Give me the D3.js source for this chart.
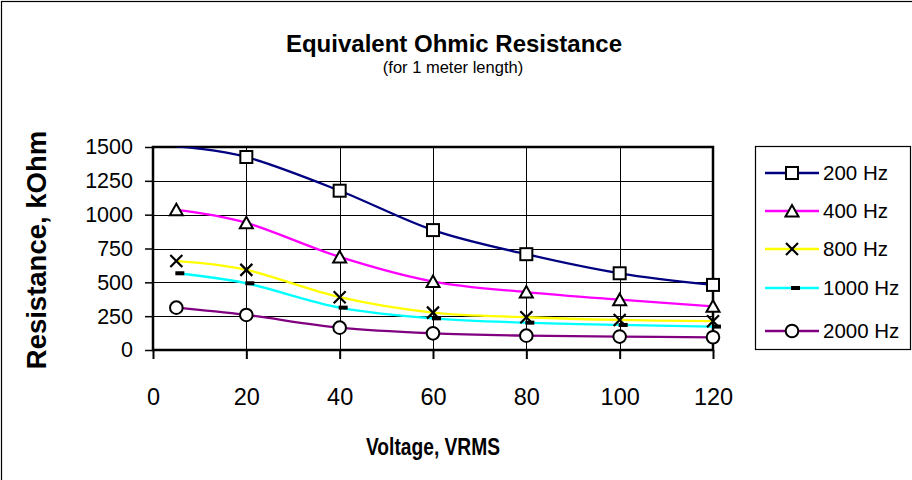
<!DOCTYPE html>
<html>
<head>
<meta charset="utf-8">
<script src="https://cdn.jsdelivr.net/npm/d3@7"></script>
<style>
  html, body { margin: 0; padding: 0; background: #fff; }
  svg { display: block; font-family: "Liberation Sans", Arial, sans-serif; }
</style>
</head>
<body>
<svg id="chart" width="912" height="480"></svg>
<script>
// ---- data ----
const voltages = [5, 20, 40, 60, 80, 100, 120];
const r200  = [1505, 1426, 1177, 886, 708, 567, 481];
const r400  = [1036, 940, 688, 506, 428, 372, 323];
const r800  = [657, 592, 390, 276, 242, 222, 213];
const r1000 = [567, 493, 313, 234, 202, 185, 173];
const r2000 = [313, 259, 165, 123, 106, 99, 94];
const seriesNames = ["200 Hz", "400 Hz", "800 Hz", "1000 Hz", "2000 Hz"];
const xTicks = [0, 20, 40, 60, 80, 100, 120];
const yTicks = [0, 250, 500, 750, 1000, 1250, 1500];
const titleText = "Equivalent Ohmic Resistance";
const subtitleText = "(for 1 meter length)";
const xTitle = "Voltage, VRMS";
const yTitle = "Resistance, kOhm";

// ---- styles ----
const colors = ["#000080", "#FF00FF", "#FFFF00", "#00FFFF", "#800080"];
const markers = ["square", "triangle", "x", "dash", "circle"];
const seriesValues = [r200, r400, r800, r1000, r2000];

const svg = d3.select("#chart");
const W = 912, H = 480;
const plot = { left: 153, right: 713, top: 147, bottom: 350 };

// outer chart border (extends beyond picture at right/bottom)
svg.append("rect").attr("x", 1.5).attr("y", 1.5).attr("width", W + 20).attr("height", H + 20)
  .attr("fill", "#fff").attr("stroke", "#000").attr("stroke-width", 1.2);

const x = d3.scaleLinear().domain([0, 120]).range([plot.left, plot.right]);
const y = d3.scaleLinear().domain([0, 1500]).range([plot.bottom, plot.top]);

// gridlines
const grid = svg.append("g");
grid.selectAll(".hg").data(yTicks.filter(t => t > 0 && t < 1500)).join("line")
  .attr("x1", plot.left).attr("x2", plot.right)
  .attr("y1", d => Math.round(y(d)) + 0.5).attr("y2", d => Math.round(y(d)) + 0.5)
  .attr("stroke", "#000").attr("stroke-width", 1);
grid.selectAll(".vg").data(xTicks.filter(t => t > 0 && t < 120)).join("line")
  .attr("y1", plot.top).attr("y2", plot.bottom)
  .attr("x1", d => Math.round(x(d)) + 0.5).attr("x2", d => Math.round(x(d)) + 0.5)
  .attr("stroke", "#000").attr("stroke-width", 1);

// axes via d3
const xAxis = d3.axisBottom(x).tickValues(xTicks).tickSize(9).tickPadding(29).tickFormat(d3.format("d"));
const yAxis = d3.axisLeft(y).tickValues(yTicks).tickSize(8).tickPadding(12).tickFormat(d3.format("d"));

const gx = svg.append("g").attr("transform", `translate(0,${plot.bottom})`).call(xAxis);
gx.select(".domain").remove();
gx.selectAll(".tick line").attr("stroke", "#000").attr("stroke-width", 2);
gx.selectAll(".tick text").attr("font-size", 23.5).attr("fill", "#000")
  .attr("font-family", "'Liberation Sans', Arial, sans-serif").attr("dy", "0.71em");

const gy = svg.append("g").attr("transform", `translate(${plot.left},0)`).call(yAxis);
gy.select(".domain").remove();
gy.selectAll(".tick line").attr("stroke", "#000").attr("stroke-width", 1.5);
gy.selectAll(".tick text").attr("font-size", 21.5).attr("fill", "#000")
  .attr("font-family", "'Liberation Sans', Arial, sans-serif");

// plot border
svg.append("rect").attr("x", plot.left).attr("y", plot.top)
  .attr("width", plot.right - plot.left).attr("height", plot.bottom - plot.top)
  .attr("fill", "none").attr("stroke", "#000").attr("stroke-width", 2.5);

// clip for lines
svg.append("clipPath").attr("id", "plotclip").append("rect")
  .attr("x", plot.left).attr("y", plot.top)
  .attr("width", plot.right - plot.left).attr("height", plot.bottom - plot.top);

const line = d3.line().x(d => x(d[0])).y(d => y(d[1])).curve(d3.curveCatmullRom.alpha(0));

const linesG = svg.append("g").attr("clip-path", "url(#plotclip)");
seriesValues.forEach((vals, i) => {
  const pts = voltages.map((v, j) => [v, vals[j]]);
  linesG.append("path").datum(pts).attr("d", line)
    .attr("fill", "none").attr("stroke", colors[i]).attr("stroke-width", 2.3);
});

function drawMarker(g, type, cx, cy) {
  const s = 6;
  if (type === "square") {
    g.append("rect").attr("x", cx - s).attr("y", cy - s).attr("width", 2 * s).attr("height", 2 * s)
      .attr("fill", "#fff").attr("stroke", "#000").attr("stroke-width", 2);
  } else if (type === "triangle") {
    g.append("path").attr("d", `M${cx},${cy - 6}L${cx + 6.5},${cy + 5.5}L${cx - 6.5},${cy + 5.5}Z`)
      .attr("fill", "#fff").attr("stroke", "#000").attr("stroke-width", 2).attr("stroke-linejoin", "miter");
  } else if (type === "x") {
    g.append("path").attr("d", `M${cx - 6},${cy - 6}L${cx + 6},${cy + 6}M${cx + 6},${cy - 6}L${cx - 6},${cy + 6}`)
      .attr("stroke", "#000").attr("stroke-width", 2.2).attr("fill", "none");
  } else if (type === "dash") {
    g.append("rect").attr("x", cx - 1).attr("y", cy - 2).attr("width", 9).attr("height", 4).attr("fill", "#000");
  } else if (type === "circle") {
    g.append("circle").attr("cx", cx).attr("cy", cy).attr("r", 6.3)
      .attr("fill", "#fff").attr("stroke", "#000").attr("stroke-width", 2);
  }
}

const markG = svg.append("g");
seriesValues.forEach((vals, i) => {
  voltages.forEach((v, j) => {
    if (vals[j] > 1500) return;
    drawMarker(markG, markers[i], x(v), y(vals[j]));
  });
});

// titles
svg.append("text").attr("x", 454).attr("y", 52).attr("text-anchor", "middle")
  .attr("font-size", 24).attr("font-weight", "bold").text(titleText);
svg.append("text").attr("x", 453).attr("y", 73).attr("text-anchor", "middle")
  .attr("font-size", 16.5).text(subtitleText);
svg.append("text").attr("x", 433).attr("y", 455).attr("text-anchor", "middle")
  .attr("font-size", 23).attr("font-weight", "bold")
  .attr("textLength", 134).attr("lengthAdjust", "spacingAndGlyphs").text(xTitle);
svg.append("text").attr("transform", "translate(46,250) rotate(-90)").attr("text-anchor", "middle")
  .attr("font-size", 27.5).attr("font-weight", "bold").text(yTitle);

// legend
const leg = svg.append("g");
leg.append("rect").attr("x", 755.5).attr("y", 146.5).attr("width", 155).attr("height", 203)
  .attr("fill", "#fff").attr("stroke", "#000").attr("stroke-width", 1.2);
const legY = [173, 211, 249, 288, 331];
seriesNames.forEach((name, i) => {
  const ly = legY[i];
  leg.append("line").attr("x1", 765).attr("x2", 819).attr("y1", ly).attr("y2", ly)
    .attr("stroke", colors[i]).attr("stroke-width", 2.3);
  drawMarker(leg, markers[i], 792, ly);
  leg.append("text").attr("x", 823).attr("y", ly).attr("dy", "0.36em")
    .attr("font-size", 20.5).text(name);
});
</script>
</body>
</html>
